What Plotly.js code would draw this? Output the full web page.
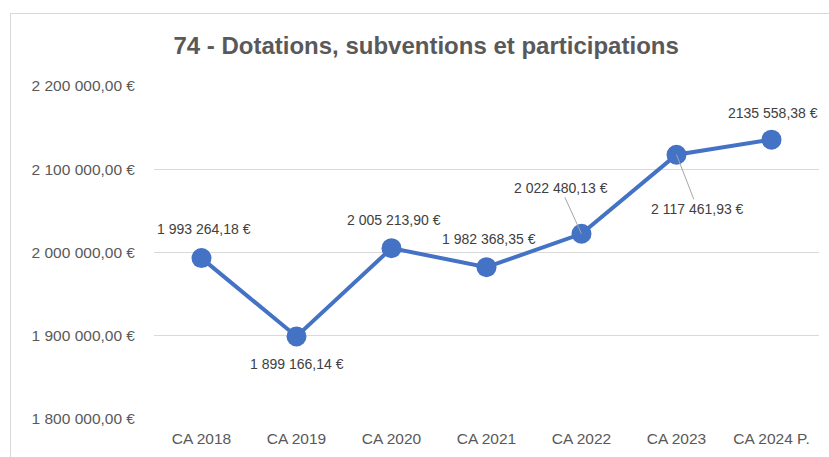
<!DOCTYPE html>
<html><head><meta charset="utf-8">
<script src="https://cdn.plot.ly/plotly-3.0.1.min.js"></script>
<style>
html,body{margin:0;padding:0;background:#fff;}
#frame{position:absolute;left:10px;top:13px;width:840px;height:470px;border:1.5px solid #d9d9d9;box-sizing:border-box;}
#chart{position:absolute;left:0;top:0;width:829px;height:457px;}
</style></head>
<body>
<div id="frame"></div>
<div id="chart"></div>
<script>
const categories = ["CA 2018","CA 2019","CA 2020","CA 2021","CA 2022","CA 2023","CA 2024 P."];
const values = [1993264.18, 1899166.14, 2005213.90, 1982368.35, 2022480.13, 2117461.93, 2135558.38];
const labels = ["1 993 264,18 €","1 899 166,14 €","2 005 213,90 €","1 982 368,35 €","2 022 480,13 €","2 117 461,93 €","2135 558,38 €"];
const yTicks = [1800000, 1900000, 2000000, 2100000, 2200000];
const yTickText = ["1 800 000,00 €","1 900 000,00 €","2 000 000,00 €","2 100 000,00 €","2 200 000,00 €"];

const FONT = "Liberation Sans, Arial, sans-serif";
const place = [
  {xs:2, ys:29},
  {xs:0, ys:-28},
  {xs:2, ys:28},
  {xs:2, ys:28},
  {arrow:true, ax:-21, ay:-46},
  {arrow:true, ax:21, ay:54},
  {xs:1, ys:27}
];
const annotations = categories.map((c,i)=>{
  const p = place[i];
  const a = {x:c, y:values[i], xref:'x', yref:'y', text:labels[i],
    font:{family:FONT, size:14, color:'#404040'}};
  if (p.arrow) {
    Object.assign(a,{showarrow:true, arrowhead:0, arrowwidth:1, arrowcolor:'#a6a6a6',
      ax:p.ax, ay:p.ay, axref:'pixel', ayref:'pixel', standoff:0, startstandoff:0});
  } else {
    Object.assign(a,{showarrow:false, xshift:p.xs, yshift:p.ys});
  }
  return a;
});

const trace = {
  type:'scatter', mode:'lines+markers', x:categories, y:values,
  line:{color:'#4472C4', width:4},
  marker:{color:'#4472C4', size:20},
  hoverinfo:'skip'
};

const layout = {
  width:829, height:457,
  margin:{l:154, r:10, t:86, b:38},
  paper_bgcolor:'rgba(0,0,0,0)', plot_bgcolor:'rgba(0,0,0,0)',
  showlegend:false,
  title:{text:'74 - Dotations, subventions et participations',
    font:{family:FONT, size:24, color:'#595959', weight:'bold'},
    x:0.514, xanchor:'center', y:0.9, yanchor:'middle', yref:'container'},
  xaxis:{type:'category', range:[-0.5,6.5], showgrid:false, zeroline:false,
    showline:false, ticks:'', tickfont:{family:FONT, size:15.5, color:'#595959'},
    ticklabelstandoff:8, fixedrange:true},
  yaxis:{range:[1800000,2200000], tickmode:'array', tickvals:yTicks, ticktext:yTickText,
    showgrid:true, gridcolor:'#d9d9d9', gridwidth:1.3, zeroline:false, showline:false,
    tickfont:{family:FONT, size:15.5, color:'#595959'}, ticklabelstandoff:18, fixedrange:true},
  annotations:annotations
};
Plotly.newPlot('chart',[trace],layout,{staticPlot:true, displayModeBar:false});
</script>
</body></html>
